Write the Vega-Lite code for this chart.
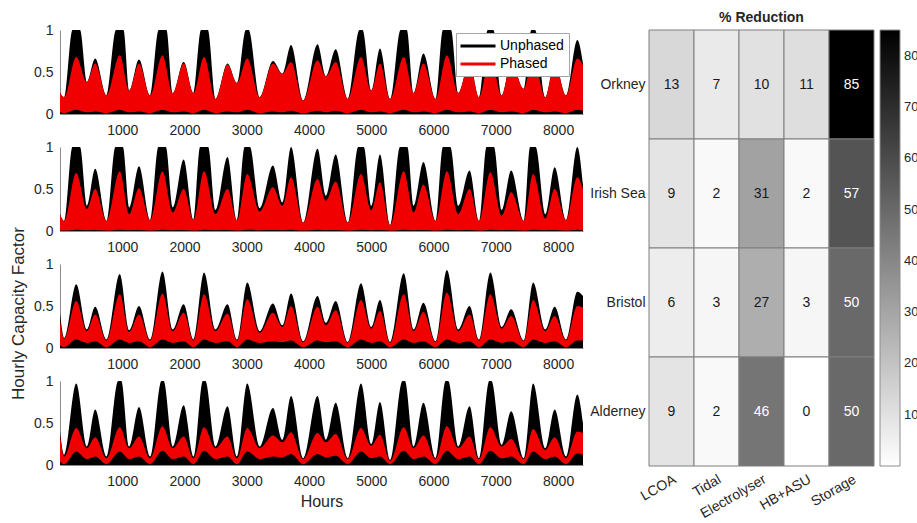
{
  "$schema": "https://vega.github.io/schema/vega-lite/v6.json",
  "background": "white",
  "padding": {"left": 8, "top": 4, "right": 0, "bottom": 4},
  "config": {
    "font": "Liberation Sans",
    "view": {"stroke": null},
    "axis": {"labelColor": "#262626", "titleColor": "#262626", "domainColor": "#8c8c8c", "tickColor": "#8c8c8c", "grid": false, "labelFontSize": 14, "titleFontWeight": "normal"}
  },
  "datasets": {
    "heat": [
      {"row": "Orkney", "col": "LCOA", "val": 13}, {"row": "Orkney", "col": "Tidal", "val": 7}, {"row": "Orkney", "col": "Electrolyser", "val": 10}, {"row": "Orkney", "col": "HB+ASU", "val": 11}, {"row": "Orkney", "col": "Storage", "val": 85},
      {"row": "Irish Sea", "col": "LCOA", "val": 9}, {"row": "Irish Sea", "col": "Tidal", "val": 2}, {"row": "Irish Sea", "col": "Electrolyser", "val": 31}, {"row": "Irish Sea", "col": "HB+ASU", "val": 2}, {"row": "Irish Sea", "col": "Storage", "val": 57},
      {"row": "Bristol", "col": "LCOA", "val": 6}, {"row": "Bristol", "col": "Tidal", "val": 3}, {"row": "Bristol", "col": "Electrolyser", "val": 27}, {"row": "Bristol", "col": "HB+ASU", "val": 3}, {"row": "Bristol", "col": "Storage", "val": 50},
      {"row": "Alderney", "col": "LCOA", "val": 9}, {"row": "Alderney", "col": "Tidal", "val": 2}, {"row": "Alderney", "col": "Electrolyser", "val": 46}, {"row": "Alderney", "col": "HB+ASU", "val": 0}, {"row": "Alderney", "col": "Storage", "val": 50}
    ],
    "blk": [
      {"s":"Orkney","h":0,"v":0.25},{"s":"Orkney","h":67,"v":0.2},{"s":"Orkney","h":200,"v":1},{"s":"Orkney","h":322,"v":1},{"s":"Orkney","h":431,"v":0.38},{"s":"Orkney","h":565,"v":0.66},{"s":"Orkney","h":747,"v":0.22},{"s":"Orkney","h":900,"v":1},{"s":"Orkney","h":1020,"v":1},{"s":"Orkney","h":1112,"v":0.28},{"s":"Orkney","h":1269,"v":0.65},{"s":"Orkney","h":1446,"v":0.22},{"s":"Orkney","h":1585,"v":1},{"s":"Orkney","h":1710,"v":1},{"s":"Orkney","h":1810,"v":0.25},{"s":"Orkney","h":1986,"v":0.62},{"s":"Orkney","h":2144,"v":0.25},{"s":"Orkney","h":2265,"v":1},{"s":"Orkney","h":2375,"v":1},{"s":"Orkney","h":2496,"v":0.18},{"s":"Orkney","h":2691,"v":0.6},{"s":"Orkney","h":2843,"v":0.37},{"s":"Orkney","h":2985,"v":1},{"s":"Orkney","h":3030,"v":1},{"s":"Orkney","h":3207,"v":0.2},{"s":"Orkney","h":3420,"v":0.63},{"s":"Orkney","h":3571,"v":0.48},{"s":"Orkney","h":3711,"v":0.82},{"s":"Orkney","h":3906,"v":0.16},{"s":"Orkney","h":4136,"v":0.83},{"s":"Orkney","h":4270,"v":0.45},{"s":"Orkney","h":4428,"v":0.77},{"s":"Orkney","h":4622,"v":0.18},{"s":"Orkney","h":4810,"v":1},{"s":"Orkney","h":4860,"v":1},{"s":"Orkney","h":4999,"v":0.28},{"s":"Orkney","h":5139,"v":0.78},{"s":"Orkney","h":5303,"v":0.18},{"s":"Orkney","h":5470,"v":1},{"s":"Orkney","h":5570,"v":1},{"s":"Orkney","h":5679,"v":0.25},{"s":"Orkney","h":5837,"v":0.72},{"s":"Orkney","h":6031,"v":0.18},{"s":"Orkney","h":6150,"v":1},{"s":"Orkney","h":6280,"v":1},{"s":"Orkney","h":6396,"v":0.25},{"s":"Orkney","h":6578,"v":0.62},{"s":"Orkney","h":6730,"v":0.2},{"s":"Orkney","h":6870,"v":1},{"s":"Orkney","h":6960,"v":1},{"s":"Orkney","h":7094,"v":0.22},{"s":"Orkney","h":7246,"v":0.62},{"s":"Orkney","h":7447,"v":0.3},{"s":"Orkney","h":7570,"v":1},{"s":"Orkney","h":7630,"v":1},{"s":"Orkney","h":7793,"v":0.2},{"s":"Orkney","h":7945,"v":0.62},{"s":"Orkney","h":8127,"v":0.22},{"s":"Orkney","h":8309,"v":0.88},{"s":"Orkney","h":8400,"v":0.6},
      {"s":"Irish Sea","h":0,"v":0.2},{"s":"Irish Sea","h":67,"v":0.12},{"s":"Irish Sea","h":200,"v":1},{"s":"Irish Sea","h":322,"v":1},{"s":"Irish Sea","h":431,"v":0.3},{"s":"Irish Sea","h":565,"v":0.74},{"s":"Irish Sea","h":747,"v":0.12},{"s":"Irish Sea","h":890,"v":1},{"s":"Irish Sea","h":1010,"v":1},{"s":"Irish Sea","h":1112,"v":0.28},{"s":"Irish Sea","h":1269,"v":0.77},{"s":"Irish Sea","h":1446,"v":0.13},{"s":"Irish Sea","h":1580,"v":1},{"s":"Irish Sea","h":1700,"v":1},{"s":"Irish Sea","h":1810,"v":0.28},{"s":"Irish Sea","h":1986,"v":0.85},{"s":"Irish Sea","h":2144,"v":0.13},{"s":"Irish Sea","h":2250,"v":1},{"s":"Irish Sea","h":2380,"v":1},{"s":"Irish Sea","h":2496,"v":0.25},{"s":"Irish Sea","h":2691,"v":0.88},{"s":"Irish Sea","h":2843,"v":0.13},{"s":"Irish Sea","h":2965,"v":1},{"s":"Irish Sea","h":3050,"v":1},{"s":"Irish Sea","h":3207,"v":0.27},{"s":"Irish Sea","h":3420,"v":0.78},{"s":"Irish Sea","h":3571,"v":0.34},{"s":"Irish Sea","h":3711,"v":1},{"s":"Irish Sea","h":3906,"v":0.1},{"s":"Irish Sea","h":4136,"v":0.98},{"s":"Irish Sea","h":4270,"v":0.42},{"s":"Irish Sea","h":4428,"v":0.91},{"s":"Irish Sea","h":4622,"v":0.1},{"s":"Irish Sea","h":4790,"v":1},{"s":"Irish Sea","h":4880,"v":1},{"s":"Irish Sea","h":4999,"v":0.3},{"s":"Irish Sea","h":5139,"v":0.91},{"s":"Irish Sea","h":5303,"v":0.07},{"s":"Irish Sea","h":5460,"v":1},{"s":"Irish Sea","h":5580,"v":1},{"s":"Irish Sea","h":5679,"v":0.3},{"s":"Irish Sea","h":5837,"v":0.82},{"s":"Irish Sea","h":6031,"v":0.12},{"s":"Irish Sea","h":6150,"v":1},{"s":"Irish Sea","h":6270,"v":1},{"s":"Irish Sea","h":6396,"v":0.3},{"s":"Irish Sea","h":6578,"v":0.72},{"s":"Irish Sea","h":6730,"v":0.12},{"s":"Irish Sea","h":6850,"v":1},{"s":"Irish Sea","h":6970,"v":1},{"s":"Irish Sea","h":7094,"v":0.25},{"s":"Irish Sea","h":7246,"v":0.72},{"s":"Irish Sea","h":7447,"v":0.12},{"s":"Irish Sea","h":7550,"v":1},{"s":"Irish Sea","h":7640,"v":1},{"s":"Irish Sea","h":7793,"v":0.2},{"s":"Irish Sea","h":7945,"v":0.76},{"s":"Irish Sea","h":8127,"v":0.13},{"s":"Irish Sea","h":8309,"v":1},{"s":"Irish Sea","h":8400,"v":0.55},
      {"s":"Bristol","h":0,"v":0.42},{"s":"Bristol","h":67,"v":0.12},{"s":"Bristol","h":261,"v":0.76},{"s":"Bristol","h":431,"v":0.22},{"s":"Bristol","h":565,"v":0.49},{"s":"Bristol","h":747,"v":0.1},{"s":"Bristol","h":960,"v":0.88},{"s":"Bristol","h":1112,"v":0.21},{"s":"Bristol","h":1269,"v":0.5},{"s":"Bristol","h":1446,"v":0.1},{"s":"Bristol","h":1646,"v":0.91},{"s":"Bristol","h":1810,"v":0.22},{"s":"Bristol","h":1986,"v":0.52},{"s":"Bristol","h":2144,"v":0.1},{"s":"Bristol","h":2314,"v":0.9},{"s":"Bristol","h":2496,"v":0.22},{"s":"Bristol","h":2691,"v":0.52},{"s":"Bristol","h":2843,"v":0.1},{"s":"Bristol","h":3007,"v":0.78},{"s":"Bristol","h":3207,"v":0.2},{"s":"Bristol","h":3420,"v":0.53},{"s":"Bristol","h":3571,"v":0.27},{"s":"Bristol","h":3711,"v":0.65},{"s":"Bristol","h":3906,"v":0.08},{"s":"Bristol","h":4136,"v":0.62},{"s":"Bristol","h":4270,"v":0.3},{"s":"Bristol","h":4428,"v":0.56},{"s":"Bristol","h":4622,"v":0.07},{"s":"Bristol","h":4835,"v":0.77},{"s":"Bristol","h":4999,"v":0.25},{"s":"Bristol","h":5139,"v":0.57},{"s":"Bristol","h":5303,"v":0.07},{"s":"Bristol","h":5521,"v":0.89},{"s":"Bristol","h":5679,"v":0.22},{"s":"Bristol","h":5837,"v":0.54},{"s":"Bristol","h":6031,"v":0.08},{"s":"Bristol","h":6214,"v":0.93},{"s":"Bristol","h":6396,"v":0.22},{"s":"Bristol","h":6578,"v":0.5},{"s":"Bristol","h":6730,"v":0.1},{"s":"Bristol","h":6912,"v":0.9},{"s":"Bristol","h":7094,"v":0.25},{"s":"Bristol","h":7246,"v":0.46},{"s":"Bristol","h":7447,"v":0.09},{"s":"Bristol","h":7599,"v":0.78},{"s":"Bristol","h":7793,"v":0.22},{"s":"Bristol","h":7945,"v":0.49},{"s":"Bristol","h":8127,"v":0.1},{"s":"Bristol","h":8309,"v":0.67},{"s":"Bristol","h":8400,"v":0.62},
      {"s":"Alderney","h":0,"v":0.4},{"s":"Alderney","h":67,"v":0.12},{"s":"Alderney","h":261,"v":0.97},{"s":"Alderney","h":431,"v":0.22},{"s":"Alderney","h":565,"v":0.66},{"s":"Alderney","h":747,"v":0.1},{"s":"Alderney","h":935,"v":1},{"s":"Alderney","h":985,"v":1},{"s":"Alderney","h":1112,"v":0.22},{"s":"Alderney","h":1269,"v":0.69},{"s":"Alderney","h":1446,"v":0.1},{"s":"Alderney","h":1630,"v":1},{"s":"Alderney","h":1665,"v":1},{"s":"Alderney","h":1810,"v":0.22},{"s":"Alderney","h":1986,"v":0.71},{"s":"Alderney","h":2144,"v":0.1},{"s":"Alderney","h":2295,"v":1},{"s":"Alderney","h":2335,"v":1},{"s":"Alderney","h":2496,"v":0.22},{"s":"Alderney","h":2691,"v":0.7},{"s":"Alderney","h":2843,"v":0.1},{"s":"Alderney","h":3007,"v":0.97},{"s":"Alderney","h":3207,"v":0.22},{"s":"Alderney","h":3420,"v":0.68},{"s":"Alderney","h":3571,"v":0.3},{"s":"Alderney","h":3711,"v":0.82},{"s":"Alderney","h":3906,"v":0.08},{"s":"Alderney","h":4136,"v":0.82},{"s":"Alderney","h":4270,"v":0.3},{"s":"Alderney","h":4428,"v":0.74},{"s":"Alderney","h":4622,"v":0.08},{"s":"Alderney","h":4835,"v":0.97},{"s":"Alderney","h":4999,"v":0.25},{"s":"Alderney","h":5139,"v":0.75},{"s":"Alderney","h":5303,"v":0.06},{"s":"Alderney","h":5500,"v":1},{"s":"Alderney","h":5540,"v":1},{"s":"Alderney","h":5679,"v":0.22},{"s":"Alderney","h":5837,"v":0.74},{"s":"Alderney","h":6031,"v":0.08},{"s":"Alderney","h":6195,"v":1},{"s":"Alderney","h":6235,"v":1},{"s":"Alderney","h":6396,"v":0.22},{"s":"Alderney","h":6578,"v":0.7},{"s":"Alderney","h":6730,"v":0.08},{"s":"Alderney","h":6895,"v":1},{"s":"Alderney","h":6930,"v":1},{"s":"Alderney","h":7094,"v":0.24},{"s":"Alderney","h":7246,"v":0.64},{"s":"Alderney","h":7447,"v":0.08},{"s":"Alderney","h":7599,"v":0.97},{"s":"Alderney","h":7793,"v":0.2},{"s":"Alderney","h":7945,"v":0.66},{"s":"Alderney","h":8127,"v":0.1},{"s":"Alderney","h":8309,"v":0.84},{"s":"Alderney","h":8400,"v":0.5}
    ],
    "red": [
      {"s":"Orkney","h":0,"hi":0.25,"lo":0.02},{"s":"Orkney","h":67,"hi":0.2,"lo":0.01},{"s":"Orkney","h":261,"hi":0.68,"lo":0.05},{"s":"Orkney","h":431,"hi":0.38,"lo":0.02},{"s":"Orkney","h":565,"hi":0.6,"lo":0.03},{"s":"Orkney","h":747,"hi":0.22,"lo":0.01},{"s":"Orkney","h":960,"hi":0.7,"lo":0.05},{"s":"Orkney","h":1112,"hi":0.28,"lo":0.02},{"s":"Orkney","h":1269,"hi":0.6,"lo":0.03},{"s":"Orkney","h":1446,"hi":0.22,"lo":0.01},{"s":"Orkney","h":1646,"hi":0.7,"lo":0.05},{"s":"Orkney","h":1810,"hi":0.25,"lo":0.02},{"s":"Orkney","h":1986,"hi":0.6,"lo":0.03},{"s":"Orkney","h":2144,"hi":0.25,"lo":0.01},{"s":"Orkney","h":2314,"hi":0.68,"lo":0.05},{"s":"Orkney","h":2496,"hi":0.18,"lo":0.01},{"s":"Orkney","h":2691,"hi":0.59,"lo":0.03},{"s":"Orkney","h":2843,"hi":0.37,"lo":0.02},{"s":"Orkney","h":3007,"hi":0.66,"lo":0.05},{"s":"Orkney","h":3207,"hi":0.2,"lo":0.01},{"s":"Orkney","h":3420,"hi":0.6,"lo":0.03},{"s":"Orkney","h":3571,"hi":0.48,"lo":0.02},{"s":"Orkney","h":3711,"hi":0.62,"lo":0.04},{"s":"Orkney","h":3906,"hi":0.16,"lo":0.01},{"s":"Orkney","h":4136,"hi":0.64,"lo":0.04},{"s":"Orkney","h":4270,"hi":0.45,"lo":0.02},{"s":"Orkney","h":4428,"hi":0.62,"lo":0.04},{"s":"Orkney","h":4622,"hi":0.18,"lo":0.01},{"s":"Orkney","h":4835,"hi":0.68,"lo":0.05},{"s":"Orkney","h":4999,"hi":0.28,"lo":0.02},{"s":"Orkney","h":5139,"hi":0.6,"lo":0.03},{"s":"Orkney","h":5303,"hi":0.18,"lo":0.01},{"s":"Orkney","h":5521,"hi":0.68,"lo":0.05},{"s":"Orkney","h":5679,"hi":0.25,"lo":0.02},{"s":"Orkney","h":5837,"hi":0.6,"lo":0.03},{"s":"Orkney","h":6031,"hi":0.18,"lo":0.01},{"s":"Orkney","h":6214,"hi":0.7,"lo":0.05},{"s":"Orkney","h":6396,"hi":0.25,"lo":0.02},{"s":"Orkney","h":6578,"hi":0.6,"lo":0.03},{"s":"Orkney","h":6730,"hi":0.2,"lo":0.01},{"s":"Orkney","h":6912,"hi":0.68,"lo":0.05},{"s":"Orkney","h":7094,"hi":0.22,"lo":0.02},{"s":"Orkney","h":7246,"hi":0.6,"lo":0.03},{"s":"Orkney","h":7447,"hi":0.3,"lo":0.01},{"s":"Orkney","h":7599,"hi":0.68,"lo":0.05},{"s":"Orkney","h":7793,"hi":0.2,"lo":0.02},{"s":"Orkney","h":7945,"hi":0.6,"lo":0.03},{"s":"Orkney","h":8127,"hi":0.22,"lo":0.01},{"s":"Orkney","h":8309,"hi":0.66,"lo":0.05},{"s":"Orkney","h":8400,"hi":0.58,"lo":0.04},
      {"s":"Irish Sea","h":0,"hi":0.2,"lo":0.01},{"s":"Irish Sea","h":67,"hi":0.12,"lo":0.005},{"s":"Irish Sea","h":261,"hi":0.69,"lo":0.015},{"s":"Irish Sea","h":431,"hi":0.26,"lo":0.01},{"s":"Irish Sea","h":565,"hi":0.5,"lo":0.012},{"s":"Irish Sea","h":747,"hi":0.12,"lo":0.005},{"s":"Irish Sea","h":960,"hi":0.71,"lo":0.015},{"s":"Irish Sea","h":1112,"hi":0.2,"lo":0.01},{"s":"Irish Sea","h":1269,"hi":0.51,"lo":0.012},{"s":"Irish Sea","h":1446,"hi":0.13,"lo":0.005},{"s":"Irish Sea","h":1646,"hi":0.71,"lo":0.015},{"s":"Irish Sea","h":1810,"hi":0.22,"lo":0.01},{"s":"Irish Sea","h":1986,"hi":0.5,"lo":0.012},{"s":"Irish Sea","h":2144,"hi":0.13,"lo":0.005},{"s":"Irish Sea","h":2314,"hi":0.71,"lo":0.015},{"s":"Irish Sea","h":2496,"hi":0.2,"lo":0.01},{"s":"Irish Sea","h":2691,"hi":0.5,"lo":0.012},{"s":"Irish Sea","h":2843,"hi":0.13,"lo":0.005},{"s":"Irish Sea","h":3007,"hi":0.68,"lo":0.015},{"s":"Irish Sea","h":3207,"hi":0.23,"lo":0.01},{"s":"Irish Sea","h":3420,"hi":0.52,"lo":0.012},{"s":"Irish Sea","h":3571,"hi":0.3,"lo":0.01},{"s":"Irish Sea","h":3711,"hi":0.64,"lo":0.015},{"s":"Irish Sea","h":3906,"hi":0.1,"lo":0.005},{"s":"Irish Sea","h":4136,"hi":0.62,"lo":0.015},{"s":"Irish Sea","h":4270,"hi":0.36,"lo":0.01},{"s":"Irish Sea","h":4428,"hi":0.59,"lo":0.012},{"s":"Irish Sea","h":4622,"hi":0.1,"lo":0.005},{"s":"Irish Sea","h":4835,"hi":0.68,"lo":0.015},{"s":"Irish Sea","h":4999,"hi":0.25,"lo":0.01},{"s":"Irish Sea","h":5139,"hi":0.58,"lo":0.012},{"s":"Irish Sea","h":5303,"hi":0.07,"lo":0.005},{"s":"Irish Sea","h":5521,"hi":0.71,"lo":0.015},{"s":"Irish Sea","h":5679,"hi":0.22,"lo":0.01},{"s":"Irish Sea","h":5837,"hi":0.55,"lo":0.012},{"s":"Irish Sea","h":6031,"hi":0.12,"lo":0.005},{"s":"Irish Sea","h":6214,"hi":0.71,"lo":0.015},{"s":"Irish Sea","h":6396,"hi":0.2,"lo":0.01},{"s":"Irish Sea","h":6578,"hi":0.5,"lo":0.012},{"s":"Irish Sea","h":6730,"hi":0.12,"lo":0.005},{"s":"Irish Sea","h":6912,"hi":0.7,"lo":0.015},{"s":"Irish Sea","h":7094,"hi":0.18,"lo":0.01},{"s":"Irish Sea","h":7246,"hi":0.46,"lo":0.012},{"s":"Irish Sea","h":7447,"hi":0.12,"lo":0.005},{"s":"Irish Sea","h":7599,"hi":0.68,"lo":0.015},{"s":"Irish Sea","h":7793,"hi":0.15,"lo":0.01},{"s":"Irish Sea","h":7945,"hi":0.5,"lo":0.012},{"s":"Irish Sea","h":8127,"hi":0.13,"lo":0.005},{"s":"Irish Sea","h":8309,"hi":0.64,"lo":0.015},{"s":"Irish Sea","h":8400,"hi":0.5,"lo":0.01},
      {"s":"Bristol","h":0,"hi":0.32,"lo":0.03},{"s":"Bristol","h":67,"hi":0.11,"lo":0.01},{"s":"Bristol","h":261,"hi":0.56,"lo":0.1},{"s":"Bristol","h":431,"hi":0.2,"lo":0.06},{"s":"Bristol","h":565,"hi":0.4,"lo":0.08},{"s":"Bristol","h":747,"hi":0.09,"lo":0.01},{"s":"Bristol","h":960,"hi":0.64,"lo":0.1},{"s":"Bristol","h":1112,"hi":0.19,"lo":0.06},{"s":"Bristol","h":1269,"hi":0.4,"lo":0.08},{"s":"Bristol","h":1446,"hi":0.09,"lo":0.01},{"s":"Bristol","h":1646,"hi":0.65,"lo":0.1},{"s":"Bristol","h":1810,"hi":0.2,"lo":0.06},{"s":"Bristol","h":1986,"hi":0.42,"lo":0.08},{"s":"Bristol","h":2144,"hi":0.09,"lo":0.01},{"s":"Bristol","h":2314,"hi":0.64,"lo":0.1},{"s":"Bristol","h":2496,"hi":0.2,"lo":0.06},{"s":"Bristol","h":2691,"hi":0.41,"lo":0.08},{"s":"Bristol","h":2843,"hi":0.09,"lo":0.01},{"s":"Bristol","h":3007,"hi":0.58,"lo":0.1},{"s":"Bristol","h":3207,"hi":0.18,"lo":0.06},{"s":"Bristol","h":3420,"hi":0.42,"lo":0.08},{"s":"Bristol","h":3571,"hi":0.25,"lo":0.07},{"s":"Bristol","h":3711,"hi":0.5,"lo":0.09},{"s":"Bristol","h":3906,"hi":0.07,"lo":0.01},{"s":"Bristol","h":4136,"hi":0.49,"lo":0.09},{"s":"Bristol","h":4270,"hi":0.27,"lo":0.07},{"s":"Bristol","h":4428,"hi":0.45,"lo":0.08},{"s":"Bristol","h":4622,"hi":0.06,"lo":0.01},{"s":"Bristol","h":4835,"hi":0.57,"lo":0.1},{"s":"Bristol","h":4999,"hi":0.23,"lo":0.06},{"s":"Bristol","h":5139,"hi":0.44,"lo":0.08},{"s":"Bristol","h":5303,"hi":0.06,"lo":0.01},{"s":"Bristol","h":5521,"hi":0.64,"lo":0.1},{"s":"Bristol","h":5679,"hi":0.2,"lo":0.06},{"s":"Bristol","h":5837,"hi":0.43,"lo":0.08},{"s":"Bristol","h":6031,"hi":0.07,"lo":0.01},{"s":"Bristol","h":6214,"hi":0.66,"lo":0.1},{"s":"Bristol","h":6396,"hi":0.2,"lo":0.06},{"s":"Bristol","h":6578,"hi":0.4,"lo":0.08},{"s":"Bristol","h":6730,"hi":0.09,"lo":0.01},{"s":"Bristol","h":6912,"hi":0.64,"lo":0.1},{"s":"Bristol","h":7094,"hi":0.23,"lo":0.06},{"s":"Bristol","h":7246,"hi":0.38,"lo":0.08},{"s":"Bristol","h":7447,"hi":0.08,"lo":0.01},{"s":"Bristol","h":7599,"hi":0.57,"lo":0.1},{"s":"Bristol","h":7793,"hi":0.2,"lo":0.06},{"s":"Bristol","h":7945,"hi":0.38,"lo":0.08},{"s":"Bristol","h":8127,"hi":0.09,"lo":0.01},{"s":"Bristol","h":8309,"hi":0.5,"lo":0.09},{"s":"Bristol","h":8400,"hi":0.48,"lo":0.09},
      {"s":"Alderney","h":0,"hi":0.35,"lo":0.04},{"s":"Alderney","h":67,"hi":0.1,"lo":0.01},{"s":"Alderney","h":261,"hi":0.44,"lo":0.16},{"s":"Alderney","h":431,"hi":0.2,"lo":0.07},{"s":"Alderney","h":565,"hi":0.33,"lo":0.1},{"s":"Alderney","h":747,"hi":0.08,"lo":0.01},{"s":"Alderney","h":960,"hi":0.45,"lo":0.16},{"s":"Alderney","h":1112,"hi":0.2,"lo":0.07},{"s":"Alderney","h":1269,"hi":0.34,"lo":0.1},{"s":"Alderney","h":1446,"hi":0.08,"lo":0.01},{"s":"Alderney","h":1646,"hi":0.46,"lo":0.17},{"s":"Alderney","h":1810,"hi":0.2,"lo":0.07},{"s":"Alderney","h":1986,"hi":0.34,"lo":0.1},{"s":"Alderney","h":2144,"hi":0.08,"lo":0.01},{"s":"Alderney","h":2314,"hi":0.45,"lo":0.17},{"s":"Alderney","h":2496,"hi":0.2,"lo":0.07},{"s":"Alderney","h":2691,"hi":0.34,"lo":0.1},{"s":"Alderney","h":2843,"hi":0.08,"lo":0.01},{"s":"Alderney","h":3007,"hi":0.44,"lo":0.16},{"s":"Alderney","h":3207,"hi":0.2,"lo":0.07},{"s":"Alderney","h":3420,"hi":0.35,"lo":0.1},{"s":"Alderney","h":3571,"hi":0.27,"lo":0.09},{"s":"Alderney","h":3711,"hi":0.39,"lo":0.13},{"s":"Alderney","h":3906,"hi":0.07,"lo":0.01},{"s":"Alderney","h":4136,"hi":0.38,"lo":0.13},{"s":"Alderney","h":4270,"hi":0.27,"lo":0.09},{"s":"Alderney","h":4428,"hi":0.37,"lo":0.11},{"s":"Alderney","h":4622,"hi":0.07,"lo":0.01},{"s":"Alderney","h":4835,"hi":0.44,"lo":0.16},{"s":"Alderney","h":4999,"hi":0.23,"lo":0.08},{"s":"Alderney","h":5139,"hi":0.36,"lo":0.1},{"s":"Alderney","h":5303,"hi":0.05,"lo":0.01},{"s":"Alderney","h":5521,"hi":0.45,"lo":0.17},{"s":"Alderney","h":5679,"hi":0.2,"lo":0.07},{"s":"Alderney","h":5837,"hi":0.35,"lo":0.1},{"s":"Alderney","h":6031,"hi":0.07,"lo":0.01},{"s":"Alderney","h":6214,"hi":0.46,"lo":0.17},{"s":"Alderney","h":6396,"hi":0.2,"lo":0.07},{"s":"Alderney","h":6578,"hi":0.34,"lo":0.1},{"s":"Alderney","h":6730,"hi":0.07,"lo":0.01},{"s":"Alderney","h":6912,"hi":0.45,"lo":0.17},{"s":"Alderney","h":7094,"hi":0.22,"lo":0.08},{"s":"Alderney","h":7246,"hi":0.31,"lo":0.1},{"s":"Alderney","h":7447,"hi":0.07,"lo":0.01},{"s":"Alderney","h":7599,"hi":0.43,"lo":0.16},{"s":"Alderney","h":7793,"hi":0.18,"lo":0.07},{"s":"Alderney","h":7945,"hi":0.33,"lo":0.1},{"s":"Alderney","h":8127,"hi":0.08,"lo":0.01},{"s":"Alderney","h":8309,"hi":0.4,"lo":0.14},{"s":"Alderney","h":8400,"hi":0.38,"lo":0.12}
    ]
  },
  "hconcat": [
    {
      "vconcat": [
        {
          "width": 523, "height": 84,
          "title": {"text": " ", "fontSize": 14, "offset": 5},
          "layer": [
            {"data": {"name": "blk"}, "transform": [{"filter": "datum.s === 'Orkney'"}],
             "mark": {"type": "area", "interpolate": "monotone"},
             "encoding": {
               "x": {"field": "h", "type": "quantitative", "scale": {"domain": [0, 8400], "nice": false, "zero": false}, "axis": {"values": [1000,2000,3000,4000,5000,6000,7000,8000], "format": "d", "title": null, "ticks": false, "labelPadding": 9}},
               "y": {"field": "v", "type": "quantitative", "stack": null, "scale": {"domain": [0, 1], "nice": false}, "axis": {"values": [0, 0.5, 1], "labelExpr": "'' + datum.value", "title": null, "ticks": false, "labelPadding": 7}},
               "color": {"datum": "Unphased", "scale": {"domain": ["Unphased", "Phased"], "range": ["#000000", "#f00000"]},
                 "legend": {"title": null, "orient": "none", "legendX": 396, "legendY": 3, "symbolType": "M-2.5,-0.21H2.5V0.21H-2.5Z", "symbolSize": 196, "symbolOffset": 9, "labelFontSize": 14, "labelColor": "#000000", "labelOffset": 14, "fillColor": "white", "strokeColor": "#a6a6a6", "padding": 5, "rowPadding": 3}}
             }},
            {"data": {"name": "red"}, "transform": [{"filter": "datum.s === 'Orkney'"}],
             "mark": {"type": "area", "interpolate": "monotone"},
             "encoding": {
               "x": {"field": "h", "type": "quantitative"},
               "y": {"field": "hi", "type": "quantitative"},
               "y2": {"field": "lo"},
               "color": {"datum": "Phased"}
             }}
          ]
        },
        {
          "width": 523, "height": 84,
          "layer": [
            {"data": {"name": "blk"}, "transform": [{"filter": "datum.s === 'Irish Sea'"}],
             "mark": {"type": "area", "interpolate": "monotone"},
             "encoding": {
               "x": {"field": "h", "type": "quantitative", "scale": {"domain": [0, 8400], "nice": false, "zero": false}, "axis": {"values": [1000,2000,3000,4000,5000,6000,7000,8000], "format": "d", "title": null, "ticks": false, "labelPadding": 9}},
               "y": {"field": "v", "type": "quantitative", "stack": null, "scale": {"domain": [0, 1], "nice": false}, "axis": {"values": [0, 0.5, 1], "labelExpr": "'' + datum.value", "title": null, "ticks": false, "labelPadding": 7}},
               "color": {"datum": "Unphased", "scale": {"domain": ["Unphased", "Phased"], "range": ["#000000", "#f00000"]}, "legend": null}
             }},
            {"data": {"name": "red"}, "transform": [{"filter": "datum.s === 'Irish Sea'"}],
             "mark": {"type": "area", "interpolate": "monotone"},
             "encoding": {
               "x": {"field": "h", "type": "quantitative"},
               "y": {"field": "hi", "type": "quantitative"},
               "y2": {"field": "lo"},
               "color": {"datum": "Phased", "legend": null}
             }}
          ]
        },
        {
          "width": 523, "height": 84,
          "layer": [
            {"data": {"name": "blk"}, "transform": [{"filter": "datum.s === 'Bristol'"}],
             "mark": {"type": "area", "interpolate": "monotone"},
             "encoding": {
               "x": {"field": "h", "type": "quantitative", "scale": {"domain": [0, 8400], "nice": false, "zero": false}, "axis": {"values": [1000,2000,3000,4000,5000,6000,7000,8000], "format": "d", "title": null, "ticks": false, "labelPadding": 9}},
               "y": {"field": "v", "type": "quantitative", "stack": null, "scale": {"domain": [0, 1], "nice": false}, "axis": {"values": [0, 0.5, 1], "labelExpr": "'' + datum.value", "title": "Hourly Capacity Factor", "titleFontSize": 17, "titleX": -33, "titleY": 49, "titleBaseline": "bottom", "ticks": false, "labelPadding": 7}},
               "color": {"datum": "Unphased", "scale": {"domain": ["Unphased", "Phased"], "range": ["#000000", "#f00000"]}, "legend": null}
             }},
            {"data": {"name": "red"}, "transform": [{"filter": "datum.s === 'Bristol'"}],
             "mark": {"type": "area", "interpolate": "monotone"},
             "encoding": {
               "x": {"field": "h", "type": "quantitative"},
               "y": {"field": "hi", "type": "quantitative"},
               "y2": {"field": "lo"},
               "color": {"datum": "Phased", "legend": null}
             }}
          ]
        },
        {
          "width": 523, "height": 84,
          "layer": [
            {"data": {"name": "blk"}, "transform": [{"filter": "datum.s === 'Alderney'"}],
             "mark": {"type": "area", "interpolate": "monotone"},
             "encoding": {
               "x": {"field": "h", "type": "quantitative", "scale": {"domain": [0, 8400], "nice": false, "zero": false}, "axis": {"values": [1000,2000,3000,4000,5000,6000,7000,8000], "format": "d", "title": "Hours", "titleFontSize": 16, "titlePadding": 5, "ticks": false, "labelPadding": 9}},
               "y": {"field": "v", "type": "quantitative", "stack": null, "scale": {"domain": [0, 1], "nice": false}, "axis": {"values": [0, 0.5, 1], "labelExpr": "'' + datum.value", "title": null, "ticks": false, "labelPadding": 7}},
               "color": {"datum": "Unphased", "scale": {"domain": ["Unphased", "Phased"], "range": ["#000000", "#f00000"]}, "legend": null}
             }},
            {"data": {"name": "red"}, "transform": [{"filter": "datum.s === 'Alderney'"}],
             "mark": {"type": "area", "interpolate": "monotone"},
             "encoding": {
               "x": {"field": "h", "type": "quantitative"},
               "y": {"field": "hi", "type": "quantitative"},
               "y2": {"field": "lo"},
               "color": {"datum": "Phased", "legend": null}
             }}
          ]
        }
      ],
      "spacing": 33,
      "bounds": "flush",
      "resolve": {"scale": {"color": "independent"}, "legend": {"color": "independent"}}
    },
    {
      "width": 225, "height": 436,
      "data": {"name": "heat"},
      "title": {"text": "% Reduction", "fontSize": 14, "fontWeight": "bold", "color": "#262626", "offset": 5},
      "encoding": {
        "x": {"field": "col", "type": "nominal", "sort": ["LCOA", "Tidal", "Electrolyser", "HB+ASU", "Storage"], "axis": {"title": null, "labelAngle": -30, "labelAlign": "right", "labelBaseline": "top", "ticks": false, "domain": false, "labelFontSize": 14, "labelPadding": 6}},
        "y": {"field": "row", "type": "nominal", "sort": ["Orkney", "Irish Sea", "Bristol", "Alderney"], "axis": {"title": null, "ticks": false, "domain": false, "labelFontSize": 14, "labelPadding": 4}}
      },
      "layer": [
        {"mark": {"type": "rect", "stroke": "#7f7f7f", "strokeWidth": 1},
         "encoding": {"color": {"field": "val", "type": "quantitative", "scale": {"domain": [0, 85], "range": ["#ffffff", "#000000"], "interpolate": "rgb"},
           "legend": {"title": null, "orient": "right", "offset": 6, "direction": "vertical", "gradientLength": 436, "gradientThickness": 20, "values": [10, 20, 30, 40, 50, 60, 70, 80], "labelFontSize": 13, "labelColor": "#262626", "labelOffset": 4, "labelOverlap": false, "gradientStrokeColor": "#8c8c8c", "gradientStrokeWidth": 1}}}},
        {"mark": {"type": "text", "fontSize": 14},
         "encoding": {"text": {"field": "val", "type": "quantitative"}, "color": {"condition": {"test": "datum.val > 40", "value": "#ffffff"}, "value": "#1a1a1a"}}}
      ]
    }
  ],
  "spacing": 6,
  "resolve": {"scale": {"color": "independent"}, "legend": {"color": "independent"}}
}
